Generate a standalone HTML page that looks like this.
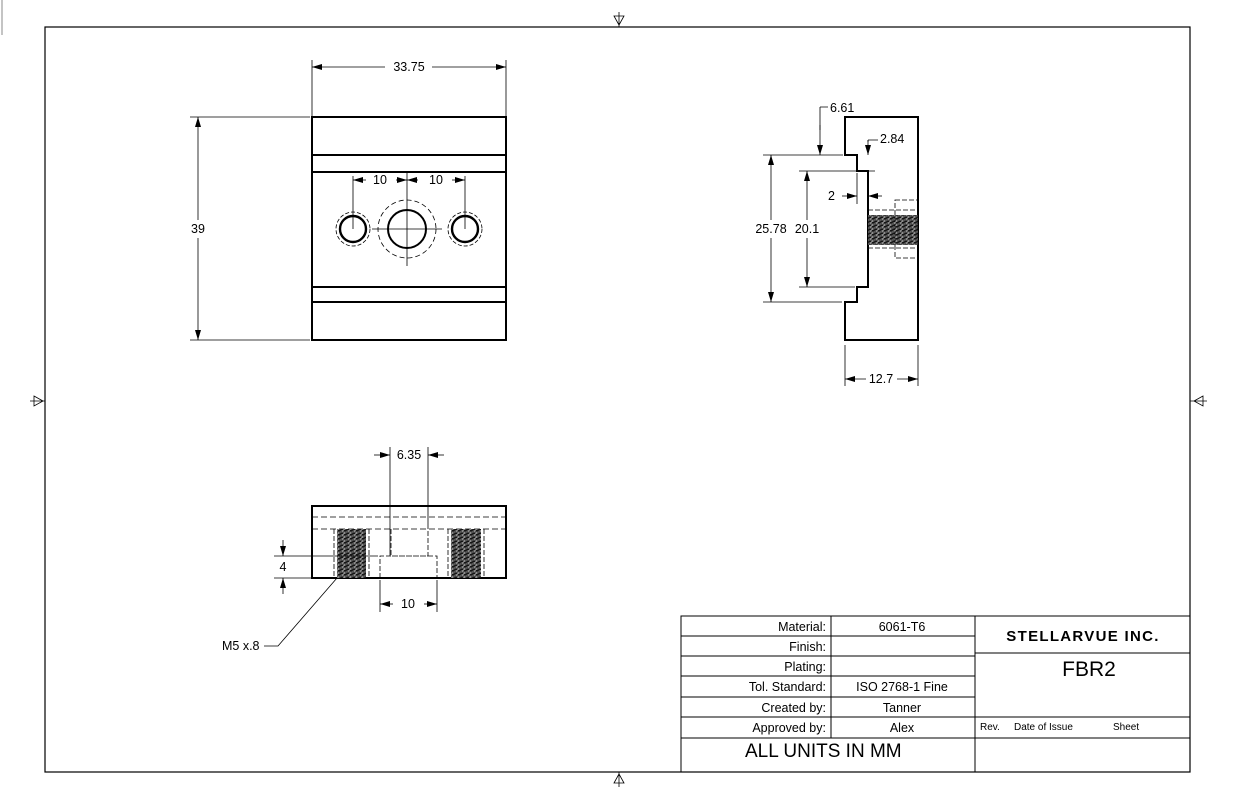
<!DOCTYPE html>
<html><head><meta charset="utf-8"><style>
html,body{margin:0;padding:0;background:#fff;}
svg{display:block;font-family:"Liberation Sans",sans-serif;}
</style></head><body>
<svg width="1236" height="800" viewBox="0 0 1236 800" xmlns="http://www.w3.org/2000/svg">
<defs>
<pattern id="thr" width="6" height="4" patternUnits="userSpaceOnUse">
<rect width="6" height="4" fill="#555"/>
<path d="M0 1 L3 3 L6 1" stroke="#111" stroke-width="1.2" fill="none"/>
<path d="M0 3.5 L3 0.5" stroke="#ddd" stroke-width="0.6"/>
</pattern>
<marker id="a" viewBox="0 0 10 6" refX="10" refY="3" markerWidth="10" markerHeight="6" orient="auto" markerUnits="userSpaceOnUse"><path d="M0 0 L10 3 L0 6z" fill="#000"/></marker>
</defs>
<g fill="none" stroke="#000">
<rect x="45" y="27" width="1145" height="745" stroke-width="1.2"/>
<line x1="2" y1="0" x2="2" y2="35" stroke="#888"/>
<path d="M619 12 V27 M614 16 L619 25 L624 16 Z" stroke-width="0.8"/>
<path d="M619 772 V787 M614 783 L619 774 L624 783 Z" stroke-width="0.8"/>
<path d="M30 401 H45 M34 396 L43 401 L34 406 Z" stroke-width="0.8"/>
<path d="M1190 401 H1207 M1203 396 L1194 401 L1203 406 Z" stroke-width="0.8"/>

<!-- FRONT VIEW -->
<rect x="312" y="117" width="194" height="223" stroke-width="2"/>
<path d="M312 155 H506 M312 172 H506 M312 287 H506 M312 302 H506" stroke-width="2"/>
<circle cx="353" cy="229" r="13" stroke-width="2.4"/>
<circle cx="353" cy="229" r="17" stroke-width="0.8" stroke-dasharray="4 2"/>
<circle cx="465" cy="229" r="13" stroke-width="2.4"/>
<circle cx="465" cy="229" r="17" stroke-width="0.8" stroke-dasharray="4 2"/>
<circle cx="407" cy="229" r="19" stroke-width="2"/>
<circle cx="407" cy="229" r="29" stroke-width="0.8" stroke-dasharray="5 3"/>
<path d="M372 229 H442 M407 172 V266 M353 176 V229 M465 176 V229" stroke-width="0.8"/>
<g stroke-width="0.8" marker-end="url(#a)">
<line x1="366" y1="180" x2="353" y2="180"/>
<line x1="396" y1="180" x2="407" y2="180"/>
<line x1="418" y1="180" x2="407" y2="180"/>
<line x1="452" y1="180" x2="465" y2="180"/>
<line x1="385" y1="67" x2="312" y2="67"/>
<line x1="432" y1="67" x2="506" y2="67"/>
<line x1="198" y1="220" x2="198" y2="117"/>
<line x1="198" y1="238" x2="198" y2="340"/>
</g>
<path d="M312 60 V117 M506 60 V117" stroke-width="0.8"/>
<path d="M190 117 H310 M190 340 H310" stroke-width="0.8"/>

<!-- SIDE VIEW -->
<path d="M845 117 H918 V340 H845 V302 H857 V287 H868 V171 H857 V155 H845 Z" stroke-width="2"/>
<rect x="868" y="215" width="50" height="30" fill="url(#thr)" stroke="none"/>
<path d="M868 210 H918 M868 248 H918" stroke-width="0.8" stroke-dasharray="5 2"/>
<rect x="895" y="200" width="23" height="58" stroke-width="0.8" stroke-dasharray="5 2"/>
<path d="M763 155 H843 M799 171 H875 M799 287 H855 M763 302 H842" stroke-width="0.8"/>
<path d="M820 107 H828 M820 107 V130 M868 140 H878 M868 140 V142 M857 173 V204 M868 173 V190 M845 345 V386 M918 345 V386" stroke-width="0.8"/>
<g stroke-width="0.8" marker-end="url(#a)">
<line x1="771" y1="220" x2="771" y2="155"/>
<line x1="771" y1="238" x2="771" y2="302"/>
<line x1="807" y1="220" x2="807" y2="171"/>
<line x1="807" y1="238" x2="807" y2="287"/>
<line x1="820" y1="125" x2="820" y2="155"/>
<line x1="868" y1="140" x2="868" y2="155"/>
<line x1="842" y1="196" x2="857" y2="196"/>
<line x1="882" y1="196" x2="868" y2="196"/>
<line x1="866" y1="379" x2="845" y2="379"/>
<line x1="897" y1="379" x2="918" y2="379"/>
</g>

<!-- BOTTOM VIEW -->
<rect x="312" y="506" width="194" height="72" stroke-width="2"/>
<path d="M312 517 H506 M312 529 H506" stroke-width="0.8" stroke-dasharray="6 3"/>
<rect x="337" y="529" width="29" height="49" fill="url(#thr)" stroke="none"/>
<rect x="451" y="529" width="30" height="49" fill="url(#thr)" stroke="none"/>
<path d="M334 529 V578 M369 529 V578 M448 529 V578 M484 529 V578" stroke-width="0.8" stroke-dasharray="5 2"/>
<path d="M391 529 V556 H428 V529 M380 578 V556 H437 V578" stroke-width="0.8" stroke-dasharray="5 2"/>
<path d="M390 447 V556 M428 447 V529 M380 580 V612 M437 580 V612 M274 556 H378 M274 578 H312" stroke-width="0.8"/>
<g stroke-width="0.8" marker-end="url(#a)">
<line x1="374" y1="455" x2="390" y2="455"/>
<line x1="444" y1="455" x2="428" y2="455"/>
<line x1="393" y1="604" x2="380" y2="604"/>
<line x1="424" y1="604" x2="437" y2="604"/>
<line x1="283" y1="540" x2="283" y2="556"/>
<line x1="283" y1="594" x2="283" y2="578"/>
</g>
<path d="M337 578 L278 646 H264" stroke-width="0.8"/>

<!-- TITLE BLOCK -->
<g stroke-width="1">
<rect x="681" y="616" width="509" height="156"/>
<path d="M975 616 V772 M831 616 V738 M681 636 H975 M681 656 H975 M681 676 H975 M681 697 H975 M681 717 H975 M681 738 H1190 M975 653 H1190 M975 717 H1190"/>
</g>
</g>
<g font-size="12.5" fill="#000">
<text x="409" y="71" text-anchor="middle">33.75</text>
<text x="198" y="233" text-anchor="middle">39</text>
<text x="380" y="184" text-anchor="middle">10</text>
<text x="436" y="184" text-anchor="middle">10</text>
<text x="830" y="112">6.61</text>
<text x="880" y="143">2.84</text>
<text x="828" y="200">2</text>
<text x="771" y="233" text-anchor="middle">25.78</text>
<text x="807" y="233" text-anchor="middle">20.1</text>
<text x="881" y="383" text-anchor="middle">12.7</text>
<text x="409" y="459" text-anchor="middle">6.35</text>
<text x="408" y="608" text-anchor="middle">10</text>
<text x="283" y="571" text-anchor="middle">4</text>
<text x="222" y="650">M5 x.8</text>
<g text-anchor="end">
<text x="826" y="631">Material:</text>
<text x="826" y="651">Finish:</text>
<text x="826" y="671">Plating:</text>
<text x="826" y="691">Tol. Standard:</text>
<text x="826" y="712">Created by:</text>
<text x="826" y="732">Approved by:</text>
</g>
<g text-anchor="middle">
<text x="902" y="631">6061-T6</text>
<text x="902" y="691">ISO 2768-1 Fine</text>
<text x="902" y="712">Tanner</text>
<text x="902" y="732">Alex</text>
</g>
<text x="745" y="757" font-size="19">ALL UNITS IN MM</text>
<text x="1083" y="641" font-size="15" font-weight="bold" text-anchor="middle" letter-spacing="1.3">STELLARVUE INC.</text>
<text x="1089" y="676" font-size="21" text-anchor="middle">FBR2</text>
<text x="980" y="730" font-size="10">Rev.</text>
<text x="1014" y="730" font-size="10">Date of Issue</text>
<text x="1113" y="730" font-size="10">Sheet</text>
</g>
</svg>
</body></html>
